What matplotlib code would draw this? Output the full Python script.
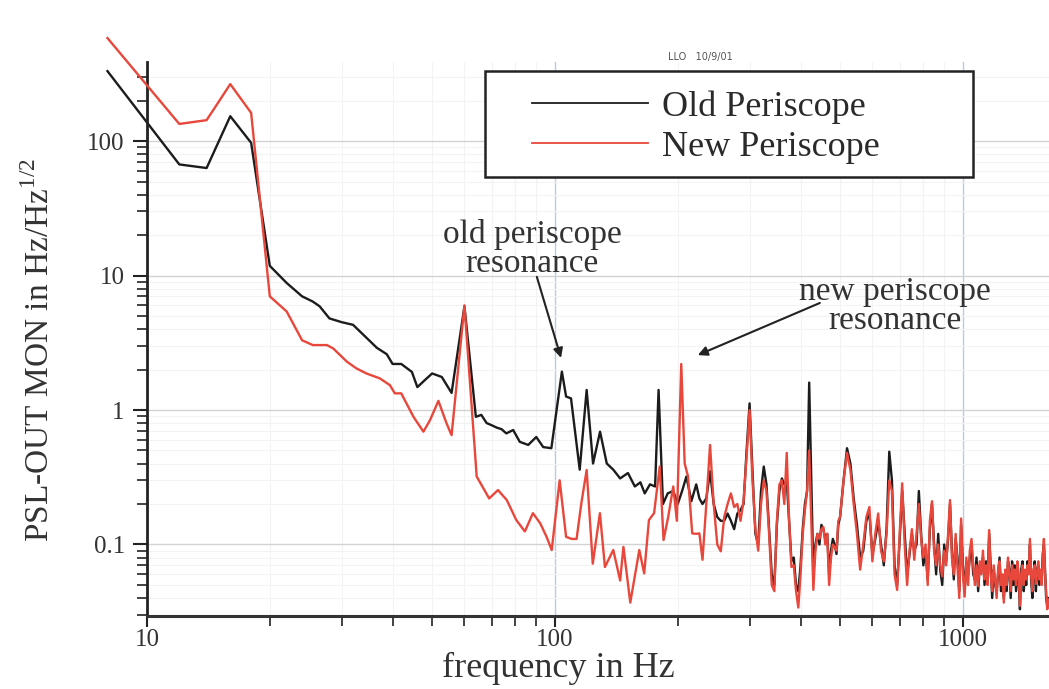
import numpy as np
import matplotlib
matplotlib.use('Agg')
import matplotlib.pyplot as plt
from matplotlib.patches import Rectangle
from matplotlib.ticker import FixedLocator, FixedFormatter, NullFormatter

plt.rcParams['font.family'] = ['Liberation Serif', 'DejaVu Serif']
plt.rcParams['mathtext.fontset'] = 'custom'
plt.rcParams['mathtext.rm'] = 'Liberation Serif'

# low frequency part, read point by point (Hz, Hz/rtHz)
old_freq_low = [8, 12, 14, 16, 18, 20, 22, 24, 25.5, 26.5, 28, 30, 32, 34, 36.6,
                38.7, 40, 42, 44.6, 46, 48, 50, 52.8, 55.8, 60, 64, 66, 68, 70, 72,
                74, 76, 79, 82, 86, 90, 93.6, 98, 104, 106.5, 109.5, 115, 119.6, 124, 129,
                134, 139, 144.5, 151, 157, 162, 166, 171, 176, 179.5, 184, 189, 195, 200, 205,
                210, 216, 222, 226]
old_asd_low = [331, 67, 63, 153, 97, 11.8, 8.8, 7.0, 6.4, 5.9, 4.8, 4.5, 4.3, 3.6, 2.9,
               2.6, 2.2, 2.2, 1.92, 1.48, 1.67, 1.87, 1.76, 1.34, 5.9, 0.89, 0.92, 0.80, 0.77, 0.74,
               0.72, 0.67, 0.71, 0.58, 0.55, 0.63, 0.53, 0.52, 1.93, 1.26, 1.22, 0.36, 1.41, 0.40, 0.69,
               0.40, 0.36, 0.31, 0.34, 0.27, 0.29, 0.24, 0.28, 0.27, 1.41, 0.20, 0.24, 0.25, 0.20, 0.25,
               0.32, 0.21, 0.28, 0.22]

new_freq_low = [8, 12, 14, 16, 18, 20, 22, 24, 25.5, 27.6, 28.6, 30.9, 32.6, 34.5, 37.2,
                39.4, 40.5, 42, 45, 47.6, 49.4, 51.8, 54.2, 55.8, 60, 64.3, 69, 72.5, 76.2, 80.4,
                84.4, 88.3, 92, 95.4, 98.2, 102.7, 106.5, 110, 113, 116, 119.6, 123.8, 128.9, 132.6, 139,
                144.5, 147.2, 153, 158.4, 161, 165.5, 170, 175, 180.7, 184.6, 189.5, 195, 199, 204, 208,
                212, 217, 222, 226]
new_asd_low = [583, 134, 143, 265, 162, 7.0, 5.4, 3.3, 3.04, 3.04, 2.87, 2.29, 2.04, 1.87, 1.72,
               1.53, 1.33, 1.33, 0.89, 0.69, 0.84, 1.17, 0.80, 0.65, 6.0, 0.32, 0.22, 0.254, 0.214, 0.152,
               0.125, 0.171, 0.144, 0.114, 0.091, 0.30, 0.114, 0.11, 0.11, 0.2, 0.358, 0.072, 0.171, 0.068, 0.091,
               0.054, 0.096, 0.037, 0.068, 0.091, 0.061, 0.152, 0.171, 0.38, 0.108, 0.16, 0.27, 0.15, 2.2, 0.4,
               0.32, 0.121, 0.12, 0.121]

# high frequency part on the analyser bins: 5 Hz up to 495, then 10 Hz
freq_mid = np.arange(230, 500, 5)
freq_high = np.arange(500, 1630, 10)

new_asd_mid = [0.077, 0.2, 0.55, 0.2, 0.1, 0.089, 0.16, 0.2, 0.24, 0.19,
               0.2, 0.15, 0.21, 0.45, 1.0, 0.3, 0.13, 0.09, 0.2, 0.3,
               0.25, 0.12, 0.05, 0.045, 0.15, 0.28, 0.3, 0.2, 0.48, 0.15,
               0.068, 0.07, 0.045, 0.034, 0.06, 0.12, 0.18, 0.25, 0.5, 0.15,
               0.046, 0.09, 0.12, 0.11, 0.13, 0.135, 0.1, 0.12, 0.05, 0.08,
               0.1, 0.096, 0.09, 0.15]
old_asd_mid = [0.20, 0.22, 0.35, 0.2, 0.16, 0.15, 0.15, 0.17, 0.15, 0.13,
               0.17, 0.18, 0.2, 0.5, 1.12, 0.35, 0.12, 0.1, 0.25, 0.38,
               0.28, 0.13, 0.06, 0.05, 0.14, 0.25, 0.31, 0.28, 0.3, 0.15,
               0.075, 0.08, 0.05, 0.045, 0.07, 0.13, 0.2, 0.25, 1.6, 0.3,
               0.06, 0.1, 0.12, 0.1, 0.14, 0.13, 0.11, 0.12, 0.06, 0.09,
               0.11, 0.1, 0.085, 0.14]

new_asd_high = [0.16, 0.30, 0.48, 0.36, 0.20, 0.12, 0.065, 0.10, 0.16, 0.19,
                0.075, 0.12, 0.17, 0.09, 0.075, 0.12, 0.30, 0.25, 0.06, 0.046,
                0.12, 0.285, 0.10, 0.05, 0.09, 0.13, 0.077, 0.12, 0.20, 0.11,
                0.08, 0.10, 0.05, 0.15, 0.21, 0.09, 0.07, 0.10, 0.07, 0.058,
                0.09, 0.07, 0.12, 0.214, 0.08, 0.06, 0.12, 0.07, 0.04, 0.156,
                0.06, 0.041, 0.08, 0.05, 0.09, 0.11, 0.07, 0.05, 0.07, 0.049,
                0.075, 0.06, 0.09, 0.055, 0.07, 0.05, 0.128, 0.06, 0.045, 0.07,
                0.054, 0.04, 0.065, 0.075, 0.05, 0.06, 0.037, 0.065, 0.05, 0.08,
                0.06, 0.045, 0.07, 0.055, 0.065, 0.05, 0.075, 0.06, 0.035, 0.06,
                0.07, 0.05, 0.065, 0.055, 0.07, 0.06, 0.11, 0.06, 0.045, 0.065,
                0.07, 0.051, 0.06, 0.075, 0.055, 0.065, 0.05, 0.08, 0.11, 0.06,
                0.045, 0.033, 0.039]
old_asd_high = [0.16, 0.30, 0.52, 0.40, 0.22, 0.14, 0.08, 0.09, 0.15, 0.17,
                0.085, 0.11, 0.15, 0.10, 0.07, 0.13, 0.49, 0.30, 0.07, 0.05,
                0.11, 0.25, 0.12, 0.06, 0.085, 0.12, 0.09, 0.10, 0.25, 0.12,
                0.07, 0.09, 0.055, 0.13, 0.20, 0.10, 0.06, 0.12, 0.065, 0.05,
                0.10, 0.075, 0.11, 0.20, 0.09, 0.055, 0.11, 0.08, 0.045, 0.14,
                0.07, 0.045, 0.075, 0.06, 0.08, 0.10, 0.06, 0.055, 0.08, 0.045,
                0.07, 0.065, 0.08, 0.05, 0.075, 0.055, 0.12, 0.07, 0.04, 0.065,
                0.05, 0.045, 0.06, 0.08, 0.045, 0.055, 0.04, 0.06, 0.045, 0.075,
                0.065, 0.04, 0.075, 0.05, 0.07, 0.045, 0.07, 0.055, 0.033, 0.065,
                0.075, 0.045, 0.06, 0.05, 0.075, 0.065, 0.10, 0.055, 0.04, 0.06,
                0.075, 0.045, 0.065, 0.07, 0.05, 0.06, 0.055, 0.085, 0.10, 0.065,
                0.04, 0.035, 0.04]

old_freq = np.concatenate([old_freq_low, freq_mid, freq_high])
old_asd = np.concatenate([old_asd_low, old_asd_mid, old_asd_high])
new_freq = np.concatenate([new_freq_low, freq_mid, freq_high])
new_asd = np.concatenate([new_asd_low, new_asd_mid, new_asd_high])

labels = ['Old Periscope', 'New Periscope']
x_ticks = [10, 100, 1000]
x_ticklabels = ['10', '100', '1000']
y_ticks = [0.1, 1, 10, 100]
y_ticklabels = ['0.1', '1', '10', '100']

W, H = 1049, 689
fig = plt.figure(figsize=(W / 100, H / 100), dpi=100)
ax = fig.add_axes([147 / W, 73 / H, 902 / W, 554 / H])
ax.set_xscale('log')
ax.set_yscale('log')

l_old, = ax.plot(old_freq, old_asd, color='#1c1c1c', lw=1.7, clip_on=False, zorder=2)
l_new, = ax.plot(new_freq, new_asd, color='#e8473b', lw=1.7, clip_on=False, zorder=3)

ax.set_xlim(10, 1626)
ax.set_ylim(0.0294, 387)

ax.xaxis.set_major_locator(FixedLocator(x_ticks))
ax.xaxis.set_major_formatter(FixedFormatter(x_ticklabels))
ax.yaxis.set_major_locator(FixedLocator(y_ticks))
ax.yaxis.set_major_formatter(FixedFormatter(y_ticklabels))
ax.xaxis.set_minor_formatter(NullFormatter())
ax.yaxis.set_minor_formatter(NullFormatter())

ax.set_axisbelow(True)
ax.grid(True, which='minor', color='#f3f3f3', lw=0.8)
ax.grid(True, which='major', axis='y', color='#d2d2d2', lw=1.0)
ax.grid(True, which='major', axis='x', color='#b8cae4', lw=1.0)

for s in ['top', 'right']:
    ax.spines[s].set_visible(False)
ax.spines['left'].set_linewidth(2.0)
ax.spines['left'].set_color('#222222')
ax.spines['bottom'].set_linewidth(2.2)
ax.spines['bottom'].set_color('#333333')

ax.tick_params(which='major', direction='out', length=10, width=1.5, color='#222222',
               labelcolor='#333333', labelsize=18)
ax.tick_params(which='minor', direction='out', length=7, width=1.2, color='#222222')
ax.tick_params(axis='y', which='major', pad=6)
ax.tick_params(axis='x', which='major', length=8, pad=1)

# legend frame, drawn by hand so the box can be wider than the entries
box = Rectangle((485 / W, 1 - 177 / H), 488 / W, 106 / H, transform=fig.transFigure,
                facecolor='white', edgecolor='#222222', lw=1.8, zorder=4, clip_on=False)
ax.add_patch(box)
leg = ax.legend([l_old, l_new], labels, loc='upper left',
                bbox_to_anchor=(532 / W, 1 - 90 / H), bbox_transform=fig.transFigure,
                frameon=False, borderpad=0, borderaxespad=0, handlelength=3.2,
                handletextpad=0.4, labelspacing=0.2, fontsize=26)
leg.set_zorder(5)
for t in leg.get_texts():
    t.set_color('#2a2a2a')
for h in leg.get_lines():
    h.set_linewidth(1.3)

fig.text(700 / W, 1 - 57 / H, 'LLO   10/9/01', fontsize=7, color='#555555',
         family=['DejaVu Sans'], ha='center', va='center')

# resonance callouts
ax.text(87.9, 15.7, 'old periscope\nresonance', ha='center', va='center',
        fontsize=24, linespacing=0.95, color='#333333')
ax.annotate('', xy=(103.5, 2.44), xytext=(90.3, 9.77),
            arrowprops=dict(arrowstyle='-|>', color='#222222', lw=1.5,
                            mutation_scale=14, shrinkA=0, shrinkB=0))
ax.text(681, 5.93, 'new periscope\nresonance', ha='center', va='center',
        fontsize=24, linespacing=0.95, color='#333333')
ax.annotate('', xy=(224, 2.56), xytext=(446, 6.25),
            arrowprops=dict(arrowstyle='-|>', color='#222222', lw=1.5,
                            mutation_scale=14, shrinkA=0, shrinkB=0))

fig.text(558 / W, 1 - 668 / H, 'frequency in Hz', ha='center', va='center',
         fontsize=26, color='#333333')
fig.text(40 / W, 1 - 350 / H, r'PSL-OUT MON in Hz/Hz$^{1/2}$', rotation=90,
         ha='center', va='center', fontsize=24, color='#333333')

fig.savefig('out.png', dpi=100)
